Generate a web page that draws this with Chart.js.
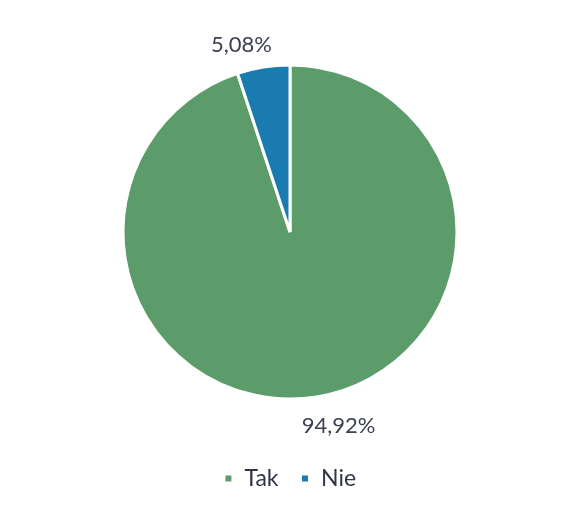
<!DOCTYPE html>
<html>
<head>
<meta charset="utf-8">
<script src="https://cdn.jsdelivr.net/npm/chart.js@4"></script>
<style>
  html, body { margin: 0; padding: 0; background: #ffffff; }
  #wrap { width: 567px; height: 510px; }
</style>
</head>
<body>
<div id="wrap"><canvas id="chart" width="567" height="510"></canvas></div>
<script>
// dane z wykresu
const labels = ['Tak', 'Nie'];
const values = [94.92, 5.08];
const colors = ['#5c9c6b', '#1a7bb0'];

// etykiety procentowe na zewnątrz wycinków
const outsideLabels = {
  id: 'outsideLabels',
  afterDatasetsDraw(chart) {
    const ctx = chart.ctx;
    const meta = chart.getDatasetMeta(0);
    ctx.save();
    ctx.font = '22px Lato';
    ctx.fillStyle = '#3b4150';
    ctx.textAlign = 'center';
    ctx.textBaseline = 'middle';
    meta.data.forEach((arc, i) => {
      const mid = (arc.startAngle + arc.endAngle) / 2;
      const r = arc.outerRadius + 26;
      let x = arc.x + Math.cos(mid) * r;
      const y = arc.y + Math.sin(mid) * r + 3;
      x += Math.cos(mid) >= 0 ? 18 : -18;
      const txt = values[i].toFixed(2).replace('.', ',') + '%';
      ctx.fillText(txt, x, y);
    });
    ctx.restore();
  }
};

new Chart(document.getElementById('chart').getContext('2d'), {
  type: 'pie',
  data: {
    labels,
    datasets: [{
      data: values,
      backgroundColor: colors,
      borderColor: '#ffffff',
      borderWidth: 3,
      radius: 167,
    }],
  },
  options: {
    responsive: false,
    animation: false,
    layout: { padding: { top: 19, left: 13, right: 0, bottom: 10 } },
    plugins: {
      legend: {
        position: 'bottom',
        labels: {
          boxWidth: 9,
          boxHeight: 9,
          padding: 22,
          color: '#2f3545',
          font: { family: 'Lato', size: 23 },
        },
      },
      tooltip: { enabled: false },
    },
  },
  plugins: [outsideLabels],
});
</script>
</body>
</html>
